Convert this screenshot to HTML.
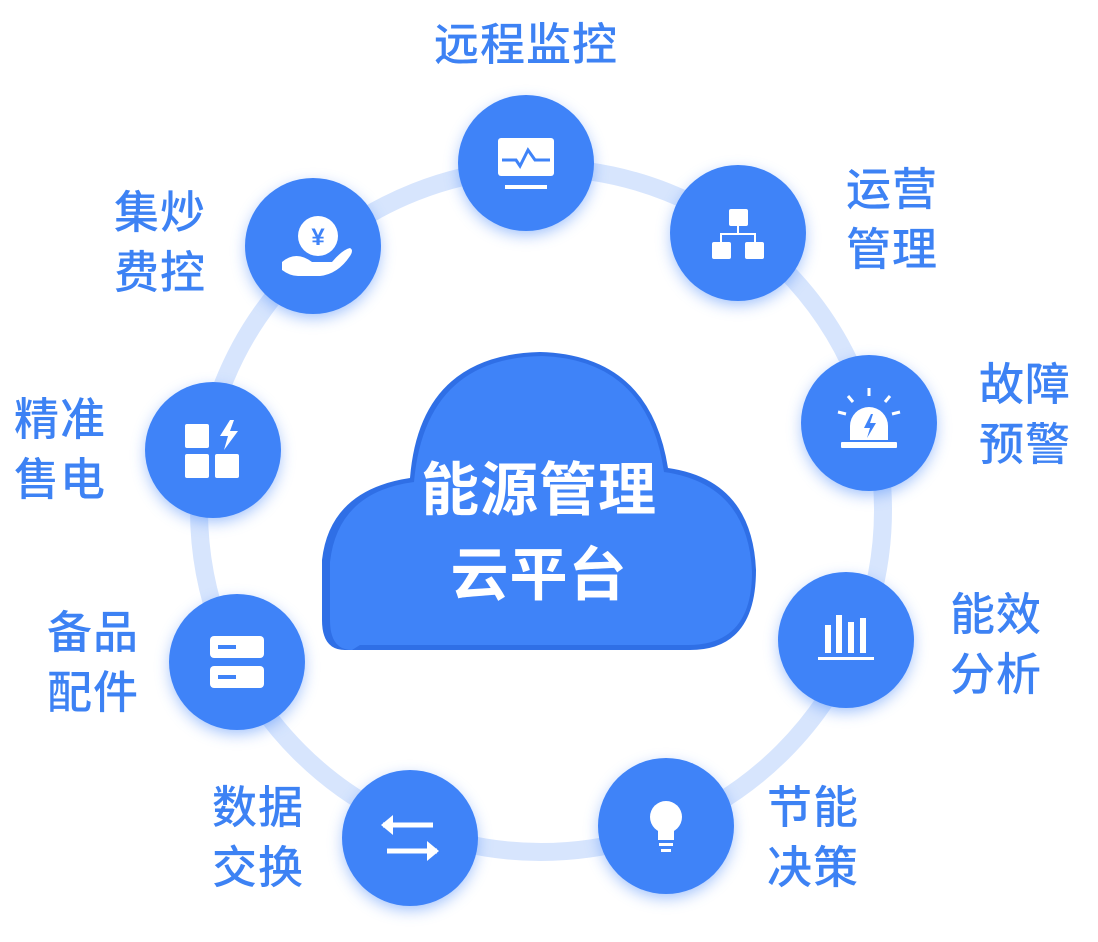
<!DOCTYPE html>
<html><head><meta charset="utf-8"><style>
html,body{margin:0;padding:0;background:#fff;}
body{width:1098px;height:942px;position:relative;overflow:hidden;font-family:"Liberation Sans","Noto Sans CJK SC",sans-serif;}
.l{position:absolute;color:#3d82f4;font-size:45px;line-height:60px;font-weight:500;letter-spacing:1px;white-space:nowrap;}
</style></head><body>
<svg width="1098" height="942" style="position:absolute;left:0;top:0">
<defs>
<filter id="sh" x="-50%" y="-50%" width="200%" height="200%"><feGaussianBlur stdDeviation="8"/></filter>
</defs>
<circle cx="541" cy="510" r="342" fill="none" stroke="#d7e5fd" stroke-width="18"/>
<g>
<path d="M345,650 Q322,650 322,620 L322,560 Q330,490 410,478 Q420,355 540,352 Q650,355 668,468 Q752,480 756,570 Q756,650 690,650 Z" fill="#2f6fe6"/>
<path d="M352,650 Q330,650 330,620 L330,562 Q338,492 414,482 Q425,358 542,356 Q648,360 664,472 Q748,484 752,572 Q752,645 688,645 L360,645 Z" fill="#3f83f8"/>
</g>
<g fill="#3f83f8">
<g filter="url(#sh)" opacity="0.55" fill="#3f83f8">
<circle cx="526" cy="168" r="66"/><circle cx="738" cy="238" r="66"/><circle cx="869" cy="428" r="66"/>
<circle cx="846" cy="645" r="66"/><circle cx="666" cy="831" r="66"/><circle cx="410" cy="843" r="66"/>
<circle cx="237" cy="667" r="66"/><circle cx="213" cy="455" r="66"/><circle cx="313" cy="251" r="66"/>
</g>
<circle cx="526" cy="163" r="68"/><circle cx="738" cy="233" r="68"/><circle cx="869" cy="423" r="68"/>
<circle cx="846" cy="640" r="68"/><circle cx="666" cy="826" r="68"/><circle cx="410" cy="838" r="68"/>
<circle cx="237" cy="662" r="68"/><circle cx="213" cy="450" r="68"/><circle cx="313" cy="246" r="68"/>
</g>
<g fill="#fff" stroke="none">
<rect x="498" y="138" width="56" height="38" rx="3"/>
<rect x="505" y="185" width="42" height="4"/>
<polyline points="502,160 516,160 520,166 528,150 535,160 550,160" fill="none" stroke="#3f83f8" stroke-width="3"/>
<rect x="729" y="209" width="19" height="17" rx="2"/>
<rect x="712" y="242" width="19" height="17" rx="2"/><rect x="745" y="242" width="19" height="17" rx="2"/>
<path d="M738,226 v8 M721,242 v-8 h34 v8" stroke="#fff" stroke-width="2" fill="none"/>
<path d="M850,440 v-14 a19,19 0 0 1 38,0 v14 z"/>
<rect x="841" y="442" width="56" height="6" rx="1"/>
<path d="M871,414 l-7,14 h6 l-3,10 l9,-15 h-6 l3,-9z" fill="#3f83f8"/>
<path d="M869,388 v8 M848,396 l5,6 M890,396 l-5,6 M838,412 l8,2 M900,412 l-8,2" stroke="#fff" stroke-width="3"/>
<rect x="825" y="625" width="6" height="28"/><rect x="836" y="615" width="6" height="38"/><rect x="848" y="622" width="6" height="31"/><rect x="860" y="618" width="6" height="35"/>
<rect x="818" y="657" width="56" height="3"/>
<circle cx="666" cy="817" r="16"/><rect x="658" y="830" width="16" height="10"/>
<rect x="659" y="843" width="14" height="3"/><rect x="661" y="849" width="10" height="3"/>
<path d="M383,825 h50" stroke="#fff" stroke-width="5"/><path d="M381,825 l12,-10 v20z"/>
<path d="M387,851 h50" stroke="#fff" stroke-width="5"/><path d="M439,851 l-12,-10 v20z"/>
<rect x="210" y="636" width="54" height="22" rx="4"/><rect x="210" y="666" width="54" height="22" rx="4"/>
<rect x="218" y="645" width="18" height="4" fill="#3f83f8"/><rect x="218" y="675" width="18" height="4" fill="#3f83f8"/>
<rect x="185" y="424" width="24" height="24" rx="2"/><rect x="185" y="454" width="24" height="24" rx="2"/><rect x="215" y="454" width="24" height="24" rx="2"/>
<path d="M230,420 l-10,16 h8 l-4,14 l14,-19 h-8 l4,-11z"/>
<circle cx="318" cy="236" r="20"/>
<text x="318" y="245" font-size="24" font-weight="bold" text-anchor="middle" fill="#3f83f8" font-family="Liberation Sans,sans-serif">¥</text>
<path d="M282,262 q14,-12 30,0 h20 q10,-12 18,-14 q4,2 0,8 q-12,18 -30,20 h-22 q-8,0 -16,-6z"/>
</g>
</svg>
<div style="position:absolute;left:322px;top:448px;width:434px;text-align:center;color:#fff;font-size:58px;font-weight:bold;line-height:85px;letter-spacing:1px;">能源管理<br>云平台</div>
<div class="l" style="left:434px;top:15px;">远程监控</div>
<div class="l" style="left:846px;top:160px;">运营<br>管理</div>
<div class="l" style="left:979px;top:355px;">故障<br>预警</div>
<div class="l" style="left:950px;top:585px;">能效<br>分析</div>
<div class="l" style="left:767px;top:778px;">节能<br>决策</div>
<div class="l" style="left:212px;top:778px;">数据<br>交换</div>
<div class="l" style="left:47px;top:603px;">备品<br>配件</div>
<div class="l" style="left:14px;top:390px;">精准<br>售电</div>
<div class="l" style="left:114px;top:183px;">集炒<br>费控</div>
</body></html>
